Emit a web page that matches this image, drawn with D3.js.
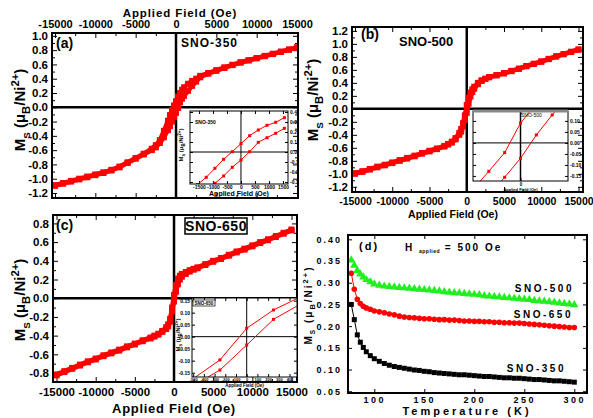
<!DOCTYPE html>
<html><head><meta charset="utf-8">
<script src="https://cdn.jsdelivr.net/npm/d3@7"></script>
<style>
body{margin:0;background:#fff}
svg{font-family:"Liberation Sans",Arial,sans-serif;font-weight:bold}
</style></head><body>
<svg width="593" height="418"></svg>
<script>
// field grid (Oe) shared by the three M-H loops
var fieldH = [-15000,-14000,-13000,-12000,-11000,-10000,-9000,-8000,-7000,-6000,-5000,-4000,
  -3000,-2500,-2000,-1500,-1000,-750,-500,-250,0,250,500,750,1000,1500,2000,2500,3000,
  4000,5000,6000,7000,8000,9000,10000,11000,12000,13000,14000,15000];

var msA_desc = [-1.09,-1.06,-1.03,-1.00,-0.97,-0.94,-0.91,-0.875,-0.83,-0.77,-0.71,-0.65,
  -0.58,-0.53,-0.46,-0.33,-0.19,-0.11,-0.04,0.025,0.085,0.15,0.20,0.245,0.28,0.33,0.37,0.40,0.44,
  0.48,0.52,0.56,0.595,0.63,0.66,0.69,0.72,0.75,0.78,0.81,0.84];
var msA_asc = [-1.10,-1.07,-1.04,-1.01,-0.98,-0.95,-0.92,-0.885,-0.84,-0.78,-0.72,-0.66,
  -0.60,-0.56,-0.50,-0.42,-0.32,-0.265,-0.20,-0.135,-0.077,-0.01,0.07,0.12,0.16,0.23,0.30,0.36,0.42,
  0.47,0.51,0.55,0.59,0.625,0.655,0.685,0.715,0.745,0.775,0.805,0.835];

var msB_desc = [-0.99,-0.96,-0.925,-0.89,-0.86,-0.825,-0.79,-0.755,-0.72,-0.68,-0.645,-0.61,
  -0.57,-0.54,-0.505,-0.45,-0.37,-0.31,-0.22,-0.10,0.06,0.17,0.25,0.30,0.34,0.40,0.44,0.465,0.49,
  0.52,0.55,0.585,0.62,0.66,0.695,0.73,0.77,0.81,0.845,0.88,0.915];
var msB_asc = [-1.00,-0.97,-0.935,-0.90,-0.87,-0.835,-0.80,-0.765,-0.73,-0.69,-0.655,-0.62,
  -0.58,-0.55,-0.52,-0.47,-0.40,-0.35,-0.27,-0.17,-0.06,0.08,0.19,0.26,0.31,0.38,0.43,0.46,0.485,
  0.515,0.545,0.58,0.615,0.655,0.69,0.725,0.765,0.805,0.84,0.875,0.91];

var msC_desc = [-0.815,-0.78,-0.745,-0.71,-0.675,-0.645,-0.61,-0.58,-0.55,-0.515,-0.485,-0.45,
  -0.42,-0.40,-0.38,-0.35,-0.31,-0.28,-0.22,-0.10,0.035,0.14,0.21,0.24,0.26,0.28,0.30,0.315,0.33,
  0.365,0.40,0.43,0.465,0.50,0.53,0.565,0.60,0.63,0.665,0.70,0.735];
var msC_asc = [-0.825,-0.79,-0.755,-0.72,-0.685,-0.655,-0.62,-0.59,-0.56,-0.525,-0.495,-0.46,
  -0.43,-0.41,-0.39,-0.36,-0.33,-0.30,-0.25,-0.14,-0.035,0.07,0.15,0.20,0.23,0.26,0.285,0.305,0.32,
  0.355,0.39,0.42,0.455,0.49,0.52,0.555,0.59,0.62,0.655,0.69,0.725];

// insets (low field)
var insetA_H = [-1550,-1240,-930,-620,-310,0,310,620,930,1240,1550];
var insetA_up = [-0.325,-0.253,-0.163,-0.073,0.003,0.083,0.163,0.22,0.267,0.297,0.343];
var insetA_low = [-0.46,-0.39,-0.313,-0.24,-0.153,-0.08,0.003,0.097,0.143,0.187,0.237];
var insetB_H = [-150,-100,-50,0,50,100,150];
var insetB_up = [-0.21,-0.129,-0.044,0.09,0.18,0.26,0.33];
var insetB_low = [-0.33,-0.24,-0.156,-0.07,0.036,0.127,0.21];
var insetC_H = [-500,-250,0,250,500];
var insetC_up = [-0.175,-0.097,0.035,0.111,0.165];
var insetC_low = [-0.204,-0.139,-0.035,0.072,0.135];

// M-T curves, H = 500 Oe
var tempK = [77,80,83,86,89,92,96,100,105,110,115,120,125,130,135,140,145,150,155,160,165,170,175,
  180,185,190,195,200,205,210,215,220,225,230,235,240,245,250,255,260,265,270,275,280,285,290,295,300];
var mt500 = [0.352,0.340,0.328,0.320,0.313,0.307,0.302,0.297,0.294,0.292,0.291,0.290,0.289,0.288,0.287,
  0.286,0.285,0.284,0.283,0.282,0.281,0.279,0.278,0.277,0.276,0.275,0.274,0.273,0.272,0.270,0.269,0.268,
  0.267,0.266,0.265,0.264,0.263,0.262,0.261,0.259,0.258,0.257,0.256,0.255,0.253,0.252,0.251,0.249];
var mt650 = [0.322,0.285,0.262,0.252,0.246,0.242,0.239,0.235,0.233,0.231,0.228,0.226,0.223,0.221,0.220,
  0.219,0.218,0.217,0.217,0.216,0.215,0.215,0.214,0.214,0.213,0.212,0.212,0.211,0.211,0.210,0.210,0.209,
  0.209,0.208,0.208,0.207,0.207,0.206,0.205,0.204,0.203,0.202,0.201,0.200,0.199,0.198,0.197,0.197];
var mt350 = [0.250,0.215,0.180,0.163,0.151,0.141,0.132,0.125,0.119,0.114,0.110,0.107,0.105,0.103,0.101,
  0.099,0.098,0.096,0.095,0.093,0.092,0.091,0.090,0.089,0.088,0.088,0.087,0.086,0.085,0.084,0.084,0.083,
  0.082,0.081,0.081,0.080,0.080,0.079,0.078,0.077,0.077,0.076,0.075,0.074,0.074,0.073,0.072,0.071];

var fieldTicks = [-15000,-10000,-5000,0,5000,10000,15000];
var msTicksA = [-1.2,-1.0,-0.8,-0.6,-0.4,-0.2,0.0,0.2,0.4,0.6,0.8,1.0];
var msTicksB = [-1.2,-1.0,-0.8,-0.6,-0.4,-0.2,0.0,0.2,0.4,0.6,0.8,1.0,1.2];
var msTicksC = [-0.8,-0.6,-0.4,-0.2,0.0,0.2,0.4,0.6,0.8];
var tTicks = [100,150,200,250,300];
var mtTicks = [0.05,0.10,0.15,0.20,0.25,0.30,0.35,0.40];

var FONT = '"Liberation Sans", Arial, sans-serif';
var svg = d3.select("svg");
var clipN = 0;
var intFmt = function(d) { return String(d); };

function styleAxis(s, size, spacing) {
  s.select(".domain").remove();
  s.attr("font-family", FONT).attr("font-size", size).attr("font-weight", "bold");
  s.selectAll("line").attr("stroke", "#000");
  s.selectAll("text").attr("fill", "#000");
  if (spacing) s.selectAll("text").style("letter-spacing", spacing);
}

function minor(ticks) {
  var out = [];
  for (var i = 0; i < ticks.length - 1; i++) out.push((ticks[i] + ticks[i+1]) / 2);
  return out;
}

function msLabel(g, cx, cy, size, spacing) {
  var t = g.append("text").attr("transform", "translate(" + cx + "," + cy + ") rotate(-90)")
    .attr("text-anchor", "middle").attr("font-size", size).style("letter-spacing", spacing || "0px");
  t.append("tspan").text("M");
  t.append("tspan").attr("dy", size*0.3).attr("font-size", size*0.65).text("S");
  t.append("tspan").attr("dy", -size*0.3).text(" (\u03bc");
  t.append("tspan").attr("dy", size*0.3).attr("font-size", size*0.75).text("B");
  t.append("tspan").attr("dy", -size*0.3).text("/Ni");
  t.append("tspan").attr("dy", -size*0.4).attr("font-size", size*0.75).text("2+");
  t.append("tspan").attr("dy", size*0.4).text(")");
}

function addClip(x0, y0, w, h) {
  var id = "clip" + (clipN++);
  svg.append("clipPath").attr("id", id).append("rect")
    .attr("x", x0).attr("y", y0).attr("width", w).attr("height", h);
  return "url(#" + id + ")";
}

function mainPanel(p) {
  var x = d3.scaleLinear().domain(p.xd).range([p.x0, p.x1]);
  var y = d3.scaleLinear().domain(p.yd).range([p.y1, p.y0]);
  var g = svg.append("g");
  var fmt = function(d) { return d.toFixed(1); };

  g.append("g").attr("transform", "translate(" + p.x0 + ",0)")
    .call(d3.axisLeft(y).tickValues(p.yt).tickSize(-5).tickPadding(4).tickFormat(fmt))
    .call(styleAxis, 11.5);
  g.append("g").attr("transform", "translate(" + p.x0 + ",0)")
    .call(d3.axisLeft(y).tickValues(minor(p.yt)).tickSize(-3).tickFormat(""))
    .call(styleAxis, 11);
  g.append("g").attr("transform", "translate(" + p.x1 + ",0)")
    .call(d3.axisRight(y).tickValues(p.yt).tickSize(-5).tickFormat(""))
    .call(styleAxis, 11);
  g.append("g").attr("transform", "translate(" + p.x1 + ",0)")
    .call(d3.axisRight(y).tickValues(minor(p.yt)).tickSize(-3).tickFormat(""))
    .call(styleAxis, 11);
  g.append("g").attr("transform", "translate(0," + p.y0 + ")")
    .call(d3.axisTop(x).tickValues(fieldTicks).tickSize(-5).tickPadding(5)
      .tickFormat(p.topLabels ? intFmt : ""))
    .call(styleAxis, 11);
  g.append("g").attr("transform", "translate(0," + p.y0 + ")")
    .call(d3.axisTop(x).tickValues(minor(fieldTicks)).tickSize(-3).tickFormat(""))
    .call(styleAxis, 11);
  g.append("g").attr("transform", "translate(0," + p.y1 + ")")
    .call(d3.axisBottom(x).tickValues(fieldTicks).tickSize(-5).tickPadding(6)
      .tickFormat(p.bottomLabels ? intFmt : ""))
    .call(styleAxis, p.bottomSize || 11);
  g.append("g").attr("transform", "translate(0," + p.y1 + ")")
    .call(d3.axisBottom(x).tickValues(minor(fieldTicks)).tickSize(-3).tickFormat(""))
    .call(styleAxis, 11);

  // zero lines
  g.append("line").attr("x1", x(0)).attr("x2", x(0)).attr("y1", p.y0).attr("y2", p.y1)
    .attr("stroke", "#000").attr("stroke-width", 2.5);
  g.append("line").attr("x1", p.x0).attr("x2", p.x1).attr("y1", y(0)).attr("y2", y(0))
    .attr("stroke", "#000").attr("stroke-width", 2.5);

  var clip = addClip(p.x0, p.y0, p.x1 - p.x0, p.y1 - p.y0);
  var line = d3.line().x(function(d) { return x(d[0]); }).y(function(d) { return y(d[1]); });
  var data = g.append("g").attr("clip-path", clip);
  [p.desc, p.asc].forEach(function(ms) {
    var pts = d3.zip(fieldH, ms);
    data.append("path").datum(pts).attr("d", line).attr("fill", "none")
      .attr("stroke", "#ff0000").attr("stroke-width", 4.5);
    data.selectAll(null).data(pts).enter().append("rect")
      .attr("x", function(d) { return x(d[0]) - 3; }).attr("y", function(d) { return y(d[1]) - 3; })
      .attr("width", 6).attr("height", 6).attr("fill", "#ff0000");
  });

  g.append("rect").attr("x", p.x0).attr("y", p.y0).attr("width", p.x1 - p.x0).attr("height", p.y1 - p.y0)
    .attr("fill", "none").attr("stroke", "#000").attr("stroke-width", 2);
  return {g: g, x: x, y: y};
}

function inset(p) {
  var x = d3.scaleLinear().domain(p.xd).range([p.x0, p.x1]);
  var y = d3.scaleLinear().domain(p.yd).range([p.y1, p.y0]);
  var g = svg.append("g");
  g.append("rect").attr("x", p.x0).attr("y", p.y0).attr("width", p.x1 - p.x0).attr("height", p.y1 - p.y0)
    .attr("fill", "#fff");
  var fmt = function(d) { return d.toFixed(p.yDec); };
  var labelSide = p.yRight ? "right" : "left";
  g.append("g").attr("transform", "translate(" + p.x0 + ",0)")
    .call(d3.axisLeft(y).tickValues(p.yt).tickSize(-3).tickPadding(2)
      .tickFormat(labelSide == "left" ? fmt : ""))
    .call(styleAxis, 5);
  g.append("g").attr("transform", "translate(" + p.x1 + ",0)")
    .call(d3.axisRight(y).tickValues(p.yt).tickSize(-3).tickPadding(2)
      .tickFormat(labelSide == "right" ? fmt : ""))
    .call(styleAxis, 5);
  g.append("g").attr("transform", "translate(0," + p.y1 + ")")
    .call(d3.axisBottom(x).tickValues(p.xt).tickSize(-3).tickPadding(1.5)
      .tickFormat(p.xLabels ? intFmt : ""))
    .call(styleAxis, p.xSize || 5);
  g.append("g").attr("transform", "translate(0," + p.y0 + ")")
    .call(d3.axisTop(x).tickValues(p.xt).tickSize(-3).tickFormat(""))
    .call(styleAxis, 5);

  g.append("line").attr("x1", x(0)).attr("x2", x(0)).attr("y1", p.y0).attr("y2", p.y1)
    .attr("stroke", "#000").attr("stroke-width", p.vw || 1);
  g.append("line").attr("x1", p.x0).attr("x2", p.x1).attr("y1", y(0)).attr("y2", y(0))
    .attr("stroke", "#000").attr("stroke-width", 1);

  var clip = addClip(p.x0, p.y0, p.x1 - p.x0, p.y1 - p.y0);
  var line = d3.line().x(function(d) { return x(d[0]); }).y(function(d) { return y(d[1]); });
  var data = g.append("g").attr("clip-path", clip);
  [p.up, p.low].forEach(function(ms) {
    var pts = d3.zip(p.H, ms);
    data.append("path").datum(pts).attr("d", line).attr("fill", "none")
      .attr("stroke", "#ff0000").attr("stroke-width", 1);
    data.selectAll(null).data(pts).enter().append("rect")
      .attr("x", function(d) { return x(d[0]) - 1.5; }).attr("y", function(d) { return y(d[1]) - 1.5; })
      .attr("width", 3).attr("height", 3).attr("fill", "#ff0000");
  });

  g.append("rect").attr("x", p.x0).attr("y", p.y0).attr("width", p.x1 - p.x0).attr("height", p.y1 - p.y0)
    .attr("fill", "none").attr("stroke", "#000").attr("stroke-width", 1);
  g.append("text").attr("x", (p.x0 + p.x1) / 2).attr("y", p.titleY).attr("text-anchor", "middle")
    .attr("font-size", p.titleSize || 6).text("Applied Field (Oe)");
  return {g: g, x: x, y: y};
}

// ---------- panel (a) ----------
var pa = mainPanel({x0: 52, x1: 298, y0: 33, y1: 198, xd: [-15370, 15120], yd: [-1.27, 1.04],
  yt: msTicksA, topLabels: true, desc: msA_desc, asc: msA_asc});
svg.append("text").attr("x", 180).attr("y", 17).attr("text-anchor", "middle").attr("font-size", 11.5)
  .style("letter-spacing", "0.9px").text("Applied Field (Oe)");
pa.g.append("text").attr("x", 56).attr("y", 48).attr("font-size", 14).text("(a)");
pa.g.append("text").attr("x", 181).attr("y", 47).attr("font-size", 12).style("letter-spacing", "1px").text("SNO-350");
msLabel(svg, 25, 110, 15);

var ia = inset({x0: 190, x1: 288, y0: 111, y1: 184, xd: [-1820, 1680], yd: [-0.32, 0.41],
  yt: [-0.3,-0.2,-0.1,0.0,0.1,0.2,0.3,0.4], yDec: 1, yRight: true,
  xt: [-1500,-1000,-500,0,500,1000,1500], xLabels: true, titleY: 196, titleSize: 7,
  H: insetA_H, up: insetA_up, low: insetA_low});
ia.g.append("text").attr("x", 195).attr("y", 124).attr("font-size", 5).text("SNO-350");
msLabel(svg, 183, 145, 6);

// ---------- panel (b) ----------
var pb = mainPanel({x0: 352, x1: 583, y0: 27, y1: 192, xd: [-15400, 15600], yd: [-1.28, 1.26],
  yt: msTicksB, bottomLabels: true, bottomSize: 10.5, desc: msB_desc, asc: msB_asc});
pb.g.append("text").attr("x", 361).attr("y", 39).attr("font-size", 14).text("(b)");
pb.g.append("text").attr("x", 399).attr("y", 46).attr("font-size", 13).text("SNO-500");
svg.append("text").attr("x", 453).attr("y", 218).attr("text-anchor", "middle").attr("font-size", 10.5)
  .text("Applied Field (Oe)");
msLabel(svg, 318, 100, 15);

var ib = inset({x0: 473, x1: 568, y0: 111, y1: 181, xd: [-150, 150], yd: [-0.173, 0.145],
  yt: [-0.15,-0.10,-0.05,0.00,0.05,0.10], yDec: 2, yRight: true, vw: 1.5,
  xt: [0], xLabels: true, xSize: 4.5, titleY: 191, titleSize: 4,
  H: insetB_H, up: insetB_up, low: insetB_low});
ib.g.append("line").attr("x1", 473).attr("x2", 568).attr("y1", 111).attr("y2", 111)
  .attr("stroke", "#888").attr("stroke-width", 3);
ib.g.append("text").attr("x", 521).attr("y", 117).attr("font-size", 5).attr("font-weight", "normal").text("SNO-500");

// ---------- panel (c) ----------
var pc = mainPanel({x0: 53, x1: 297, y0: 215, y1: 382, xd: [-15450, 15700], yd: [-0.896, 0.89],
  yt: msTicksC, bottomLabels: true, bottomSize: 11.5, desc: msC_desc, asc: msC_asc});
pc.g.append("text").attr("x", 56).attr("y", 230).attr("font-size", 14).text("(c)");
pc.g.append("rect").attr("x", 185).attr("y", 218).attr("width", 62).attr("height", 16)
  .attr("fill", "#fff").attr("stroke", "#000").attr("stroke-width", 1.5);
pc.g.append("text").attr("x", 216).attr("y", 231).attr("text-anchor", "middle").attr("font-size", 14)
  .style("letter-spacing", "0.5px").text("SNO-650");
svg.append("text").attr("x", 174).attr("y", 413).attr("text-anchor", "middle").attr("font-size", 13)
  .style("letter-spacing", "0.7px").text("Applied Field (Oe)");
msLabel(svg, 25, 300, 15);

var ic = inset({x0: 192, x1: 297, y0: 298, y1: 377, xd: [-511, 470], yd: [-0.168, 0.161],
  yt: [-0.15,-0.10,-0.05,0.00,0.05,0.10,0.15], yDec: 2, yRight: false,
  xt: [-500,-400,-300,-200,-100,0,100,200,300,400], xLabels: true, xSize: 4, titleY: 386.5, titleSize: 4.5,
  H: insetC_H, up: insetC_up, low: insetC_low});
ic.g.append("rect").attr("x", 193).attr("y", 300).attr("width", 22).attr("height", 6)
  .attr("fill", "#fff").attr("stroke", "#000").attr("stroke-width", 0.7);
ic.g.append("text").attr("x", 204).attr("y", 305).attr("text-anchor", "middle").attr("font-size", 4.5).text("SNO-650");
msLabel(svg, 180, 335, 6);

// ---------- panel (d) ----------
(function() {
  var x0 = 348, x1 = 587, y0 = 235, y1 = 393;
  var x = d3.scaleLinear().domain([73.7, 312.7]).range([x0, x1]);
  var y = d3.scaleLinear().domain([0.046, 0.41]).range([y1, y0]);
  var g = svg.append("g");
  g.append("g").attr("transform", "translate(" + x0 + ",0)")
    .call(d3.axisLeft(y).tickValues(mtTicks).tickSize(-4).tickPadding(6).tickFormat(function(d) { return d.toFixed(2); }))
    .call(styleAxis, 9, "2px");
  g.append("g").attr("transform", "translate(" + x1 + ",0)")
    .call(d3.axisRight(y).tickValues(mtTicks).tickSize(-4).tickFormat(""))
    .call(styleAxis, 9);
  g.append("g").attr("transform", "translate(0," + y1 + ")")
    .call(d3.axisBottom(x).tickValues(tTicks).tickSize(-4).tickPadding(4).tickFormat(intFmt))
    .call(styleAxis, 9, "2.5px");
  g.append("g").attr("transform", "translate(0," + y0 + ")")
    .call(d3.axisTop(x).tickValues(tTicks).tickSize(-4).tickFormat(""))
    .call(styleAxis, 9);

  var clip = addClip(x0, y0, x1 - x0, y1 - y0);
  var line = d3.line().x(function(d) { return x(d[0]); }).y(function(d) { return y(d[1]); });
  var data = g.append("g").attr("clip-path", clip);

  var black = d3.zip(tempK, mt350), red = d3.zip(tempK, mt650), green = d3.zip(tempK, mt500);
  data.append("path").datum(black).attr("d", line).attr("fill", "none").attr("stroke", "#000").attr("stroke-width", 1);
  data.append("path").datum(red).attr("d", line).attr("fill", "none").attr("stroke", "#ff0000").attr("stroke-width", 1);
  data.selectAll(null).data(black).enter().append("rect")
    .attr("x", function(d) { return x(d[0]) - 2.5; }).attr("y", function(d) { return y(d[1]) - 2.5; })
    .attr("width", 5).attr("height", 5).attr("fill", "#000");
  data.selectAll(null).data(red).enter().append("circle")
    .attr("cx", function(d) { return x(d[0]); }).attr("cy", function(d) { return y(d[1]); })
    .attr("r", 2.8).attr("fill", "#ff0000");
  var tri = d3.symbol().type(d3.symbolTriangle).size(30);
  data.selectAll(null).data(green).enter().append("path")
    .attr("transform", function(d) { return "translate(" + x(d[0]) + "," + y(d[1]) + ")"; })
    .attr("d", tri).attr("fill", "#22ee22");

  g.append("rect").attr("x", x0).attr("y", y0).attr("width", x1 - x0).attr("height", y1 - y0)
    .attr("fill", "none").attr("stroke", "#000").attr("stroke-width", 2);

  g.append("text").attr("x", 359).attr("y", 250).attr("font-size", 11).style("letter-spacing", "2px").text("(d)");
  var h = g.append("text").attr("x", 405).attr("y", 251).attr("font-size", 10).style("letter-spacing", "2px");
  h.append("tspan").text("H ");
  h.append("tspan").attr("dy", 2).attr("font-size", 5).style("letter-spacing", "0.5px").text("applied");
  h.append("tspan").attr("dy", -2).text(" = 500 Oe");
  g.append("text").attr("x", 574).attr("y", 292).attr("text-anchor", "end").attr("font-size", 10)
    .style("letter-spacing", "2.5px").text("SNO-500");
  g.append("text").attr("x", 573).attr("y", 318).attr("text-anchor", "end").attr("font-size", 10)
    .style("letter-spacing", "2.5px").text("SNO-650");
  g.append("text").attr("x", 566).attr("y", 372).attr("text-anchor", "end").attr("font-size", 10)
    .style("letter-spacing", "2.5px").text("SNO-350");
  svg.append("text").attr("x", 467).attr("y", 415).attr("text-anchor", "middle").attr("font-size", 11)
    .style("letter-spacing", "3px").text("Temperature (K)");
  msLabel(svg, 312, 305, 10, "2px");
})();
</script>
</body></html>
